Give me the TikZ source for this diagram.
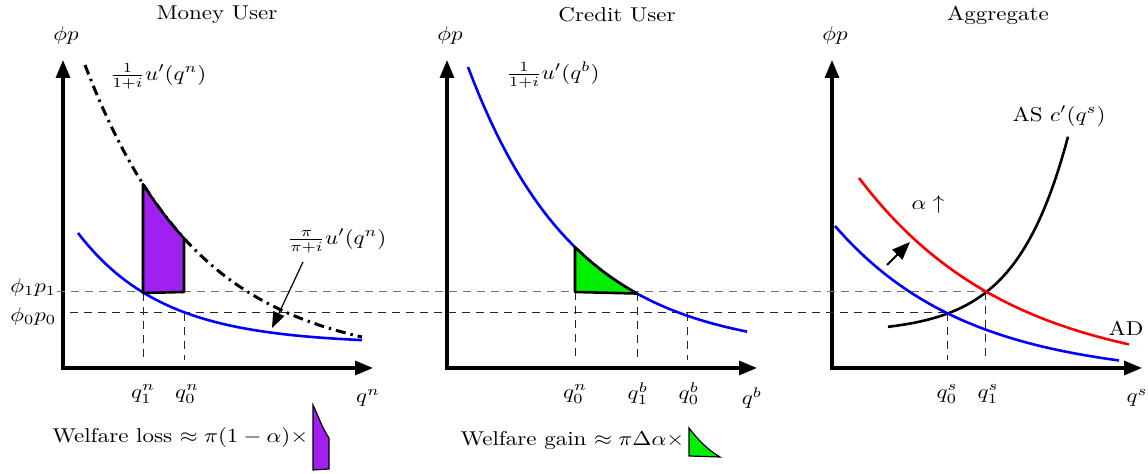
\documentclass[tikz,border=0pt]{standalone}
\usepackage{amsmath}
\usepackage{xcolor}
\usepackage{tikz}
\usetikzlibrary{arrows.meta}

\definecolor{lossfill}{RGB}{160,32,240}
\definecolor{gainfill}{RGB}{0,240,0}

\begin{document}
\begin{tikzpicture}[x=0.5pt,y=-0.5pt,
    every node/.style={xscale=1.15,inner sep=1pt},
    axis/.style={line width=1.6pt,{Triangle[length=9pt,width=7pt]}-{Triangle[length=9pt,width=7pt]}},
    guide/.style={line width=0.5pt,dash pattern=on 4pt off 3pt,black!85},
    curve/.style={line width=1.3pt},
    region/.style={line width=1.3pt,line join=round,draw=black},
    pointer/.style={-{Triangle[length=8pt,width=6pt]}},
    declare function={mu(\x)=363-298*exp(-0.0088*(\x-85));
      mb(\x)=344-111*exp(-0.0118*(\x-78));
      cb(\x)=353-286*exp(-0.0093*(\x-468));
      as(\x)=333-6.2*exp(0.0192*(\x-888));
      ad(\x)=378-200*exp(-0.0066*(\x-859));
      ab(\x)=378-152*exp(-0.0076*(\x-835));}]
    \useasboundingbox (0,0) rectangle (1148,474);
    \foreach \ox/\lbl in {63/n,447/b,832/s} {
      \draw[axis] (\ox,60) -- (\ox,368) -- (\ox+310,368);
      \node (phip\lbl) at (\ox+3,36) {$\phi p$};
      \node (q\lbl) at (\ox+305,398) {$q^{\lbl}$};
    }
    \node (titleMoney) at (217,15) {Money User};
    \node (titleCredit) at (617,15) {Credit User};
    \node (titleAgg) at (998,15) {Aggregate};
    \node[anchor=east] (phione) at (59,288) {$\phi_1 p_1$};
    \node[anchor=east] (phizero) at (59,317) {$\phi_0 p_0$};
    \draw[guide,black!55] (57,292) -- (985,292);
    \draw[guide] (70,313) -- (947,313);
    \foreach \gx/\gy in {143/293,184/313,575/292,637/293,687/313,947/313,985/292}
      \draw[guide] (\gx,\gy) -- (\gx,360);
    % money user
    \draw[curve,line width=1.5pt,dash pattern=on 5pt off 2.5pt on 1.2pt off 2.5pt] plot[domain=85:362,samples=60] (\x,{mu(\x)});
    \draw[curve,blue] plot[domain=78:362,samples=60] (\x,{mb(\x)});
    \filldraw[region,fill=lossfill] (143,293) -- plot[domain=143:184,samples=20] (\x,{mu(\x)}) -- (184,292) -- cycle;
    \node (uMoney) at (158,76) {$\frac{1}{1+i}u'(q^n)$};
    \node (uPi) at (337,241) {$\frac{\pi}{\pi+i}u'(q^n)$};
    \coordinate (piTail) at (303,262);
    \coordinate (piTip) at (272,328);
    \draw[pointer,line width=0.6pt] (piTail) -- (piTip);
    \node (qOneN) at (143,394) {$q_1^n$};
    \node (qZeroN) at (187,394) {$q_0^n$};
    % credit user
    \draw[curve,blue] plot[domain=468:747,samples=60] (\x,{cb(\x)});
    \filldraw[region,fill=gainfill] (575,292) -- plot[domain=575:637,samples=20] (\x,{cb(\x)}) -- cycle;
    \node (uCredit) at (553,75) {$\frac{1}{1+i}u'(q^b)$};
    \node (qZeroNb) at (575,394) {$q_0^n$};
    \node (qOneB) at (638,394) {$q_1^b$};
    \node (qZeroB) at (689,394) {$q_0^b$};
    % aggregate
    \draw[curve] plot[domain=888:1068,samples=60] (\x,{as(\x)});
    \draw[curve,red] plot[domain=859:1129,samples=60] (\x,{ad(\x)});
    \draw[curve,blue] plot[domain=835:1119,samples=60] (\x,{ab(\x)});
    \coordinate (shiftTail) at (887,265);
    \coordinate (shiftTip) at (910,242);
    \draw[pointer,line width=1pt,-{Triangle[length=9pt,width=7pt]}] (shiftTail) -- (shiftTip);
    \node (alphaLab) at (928,205) {$\alpha\uparrow$};
    \node (asLab) at (1059,116) {AS $c'(q^s)$};
    \node (adLab) at (1126,328) {AD};
    \node (qZeroS) at (947,394) {$q_0^s$};
    \node (qOneS) at (988,394) {$q_1^s$};
    % welfare
    \node[anchor=east] (lossText) at (311,438) {Welfare loss $\approx \pi(1-\alpha)\times$};
    \filldraw[fill=lossfill,line width=0.6pt] (313,405) .. controls (318,415) and (322,428) .. (329,438) -- (329,469) -- (313,470) -- cycle;
    \node[anchor=east] (gainText) at (687,441) {Welfare gain $\approx \pi\Delta\alpha\times$};
    \filldraw[fill=gainfill,line width=0.6pt] (689,428) -- (689,456) -- (720,457) .. controls (708,450) and (698,440) .. (689,428) -- cycle;
\end{tikzpicture}
\end{document}
